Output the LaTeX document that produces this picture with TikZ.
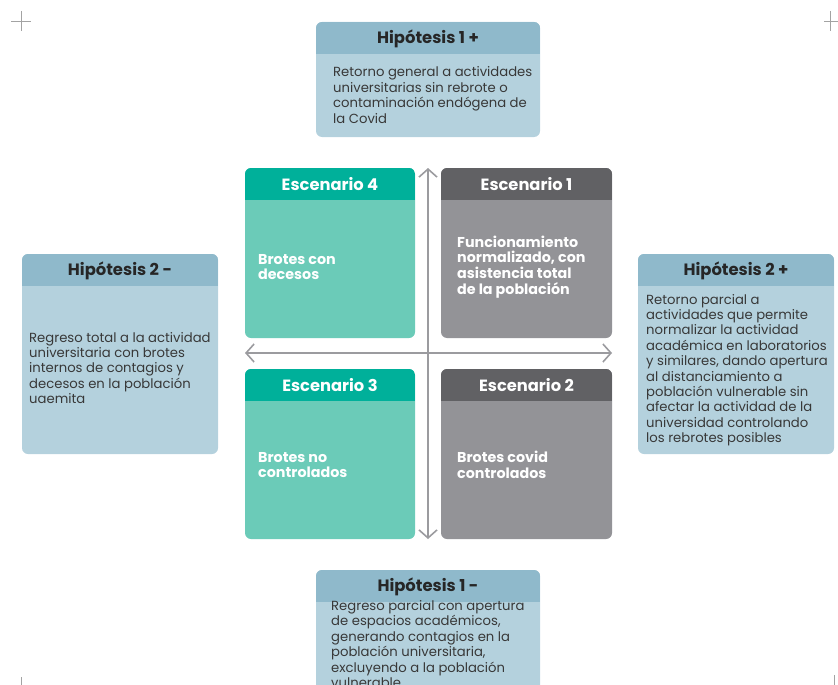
\documentclass[tikz,border=0pt]{standalone}
\usepackage{fontspec}
\setmainfont{Poppins}
\usetikzlibrary{arrows.meta}
\definecolor{hipHead}{HTML}{8FB9CB}
\definecolor{hipBody}{HTML}{B4D1DD}
\definecolor{tealHead}{HTML}{00B09A}
\definecolor{tealBody}{HTML}{6BCBB8}
\definecolor{greyHead}{HTML}{616164}
\definecolor{greyBody}{HTML}{939397}
\definecolor{axisGrey}{HTML}{9B9B9F}
\definecolor{markGrey}{HTML}{A3A3A3}
\newcommand\headbox[7]{%
% the box, all corners rounded
    \fill[#6Body,rounded corners=6pt] (#2,#3) rectangle (#2+#4,#3+#5);
    % the header band keeps only the top corners rounded
    \begin{scope}
    \clip[rounded corners=6pt] (#2,#3) rectangle (#2+#4,#3+#5);
    \fill[#6Head] (#2,#3) rectangle (#2+#4,#3+32);
    \end{scope}
    \node[#6title] (#1) at (#2+#4/2,#3+16.5) {#7};
    }

\begin{document}
\begin{tikzpicture}[x={(1pt,0pt)},y={(0pt,-1pt)},
    hiptitle/.style={font=\bfseries\fontsize{16.4}{18}\selectfont,text=black!85,inner sep=0pt},
    tealtitle/.style={font=\bfseries\fontsize{16.3}{18}\selectfont,text=white,inner sep=0pt},
    greytitle/.style={tealtitle},
    hiptext/.style={anchor=west,align=left,font=\fontsize{13.2}{15.4}\selectfont,text=black!78,inner sep=0pt},
    scentext/.style={anchor=west,align=left,font=\bfseries\fontsize{14.3}{15.8}\selectfont,text=white,inner sep=0pt},
    axis/.style={draw=axisGrey,line width=1.6pt,{Straight Barb[length=8pt,width=18pt]}-{Straight Barb[length=8pt,width=18pt]}},
    cropmark/.style={draw=markGrey,line width=0.8pt}]
    \useasboundingbox (0,0) rectangle (838,685);
    \clip (0,0) rectangle (838,685);

    % hypotheses
    \headbox{h1p}{316}{22}{224}{115}{hip}{Hipótesis 1 +}
    \headbox{h2m}{22}{254}{196}{200}{hip}{Hipótesis 2 -}
    \headbox{h2p}{638}{254}{196}{200}{hip}{Hipótesis 2 +}
    \headbox{h1m}{316}{570}{224}{125}{hip}{Hipótesis 1 -}
    \node[hiptext] (h1p-txt) at (333,95) {Retorno general a actividades\\universitarias sin rebrote o\\contaminación endógena de\\la Covid};
    \node[hiptext] (h2m-txt) at (29,368) {Regreso total a la actividad\\universitaria con brotes\\internos de contagios y\\decesos en la población\\uaemita};
    \node[hiptext] (h2p-txt) at (646,370) {Retorno parcial a\\actividades que permite\\normalizar la actividad\\académica en laboratorios\\y similares, dando apertura\\al distanciamiento a\\población vulnerable sin\\afectar la actividad de la\\universidad controlando\\los rebrotes posibles};
    \node[hiptext] (h1m-txt) at (331,644) {Regreso parcial con apertura\\de espacios académicos,\\generando contagios en la\\población universitaria,\\excluyendo a la población\\vulnerable};

    % scenarios
    \headbox{esc4}{245}{168}{170}{170}{teal}{Escenario 4}
    \headbox{esc1}{441}{168}{171}{170}{grey}{Escenario 1}
    \headbox{esc3}{245}{369}{170}{170}{teal}{Escenario 3}
    \headbox{esc2}{441}{369}{171}{170}{grey}{Escenario 2}
    \node[scentext] (esc4-txt) at (258,267) {Brotes con\\decesos};
    \node[scentext] (esc1-txt) at (457,267) {Funcionamiento\\normalizado, con\\asistencia total\\de la población};
    \node[scentext] (esc3-txt) at (258,465) {Brotes no\\controlados};
    \node[scentext] (esc2-txt) at (457,465) {Brotes covid\\controlados};

    % axes
    \coordinate (ax-n) at (428,168);
    \coordinate (ax-s) at (428,539);
    \coordinate (ax-w) at (245,353);
    \coordinate (ax-e) at (612,353);
    \draw[axis] (ax-n) -- (ax-s);
    \draw[axis] (ax-w) -- (ax-e);

    % crop marks
    \draw[cropmark] (11,21) -- (31,21) (21,11) -- (21,31);
    \draw[cropmark] (824,21) -- (838,21) (830,11) -- (830,31);
    \draw[cropmark] (21,677) -- (21,685);
    \draw[cropmark] (834,675) -- (834,685);
\end{tikzpicture}
\end{document}
